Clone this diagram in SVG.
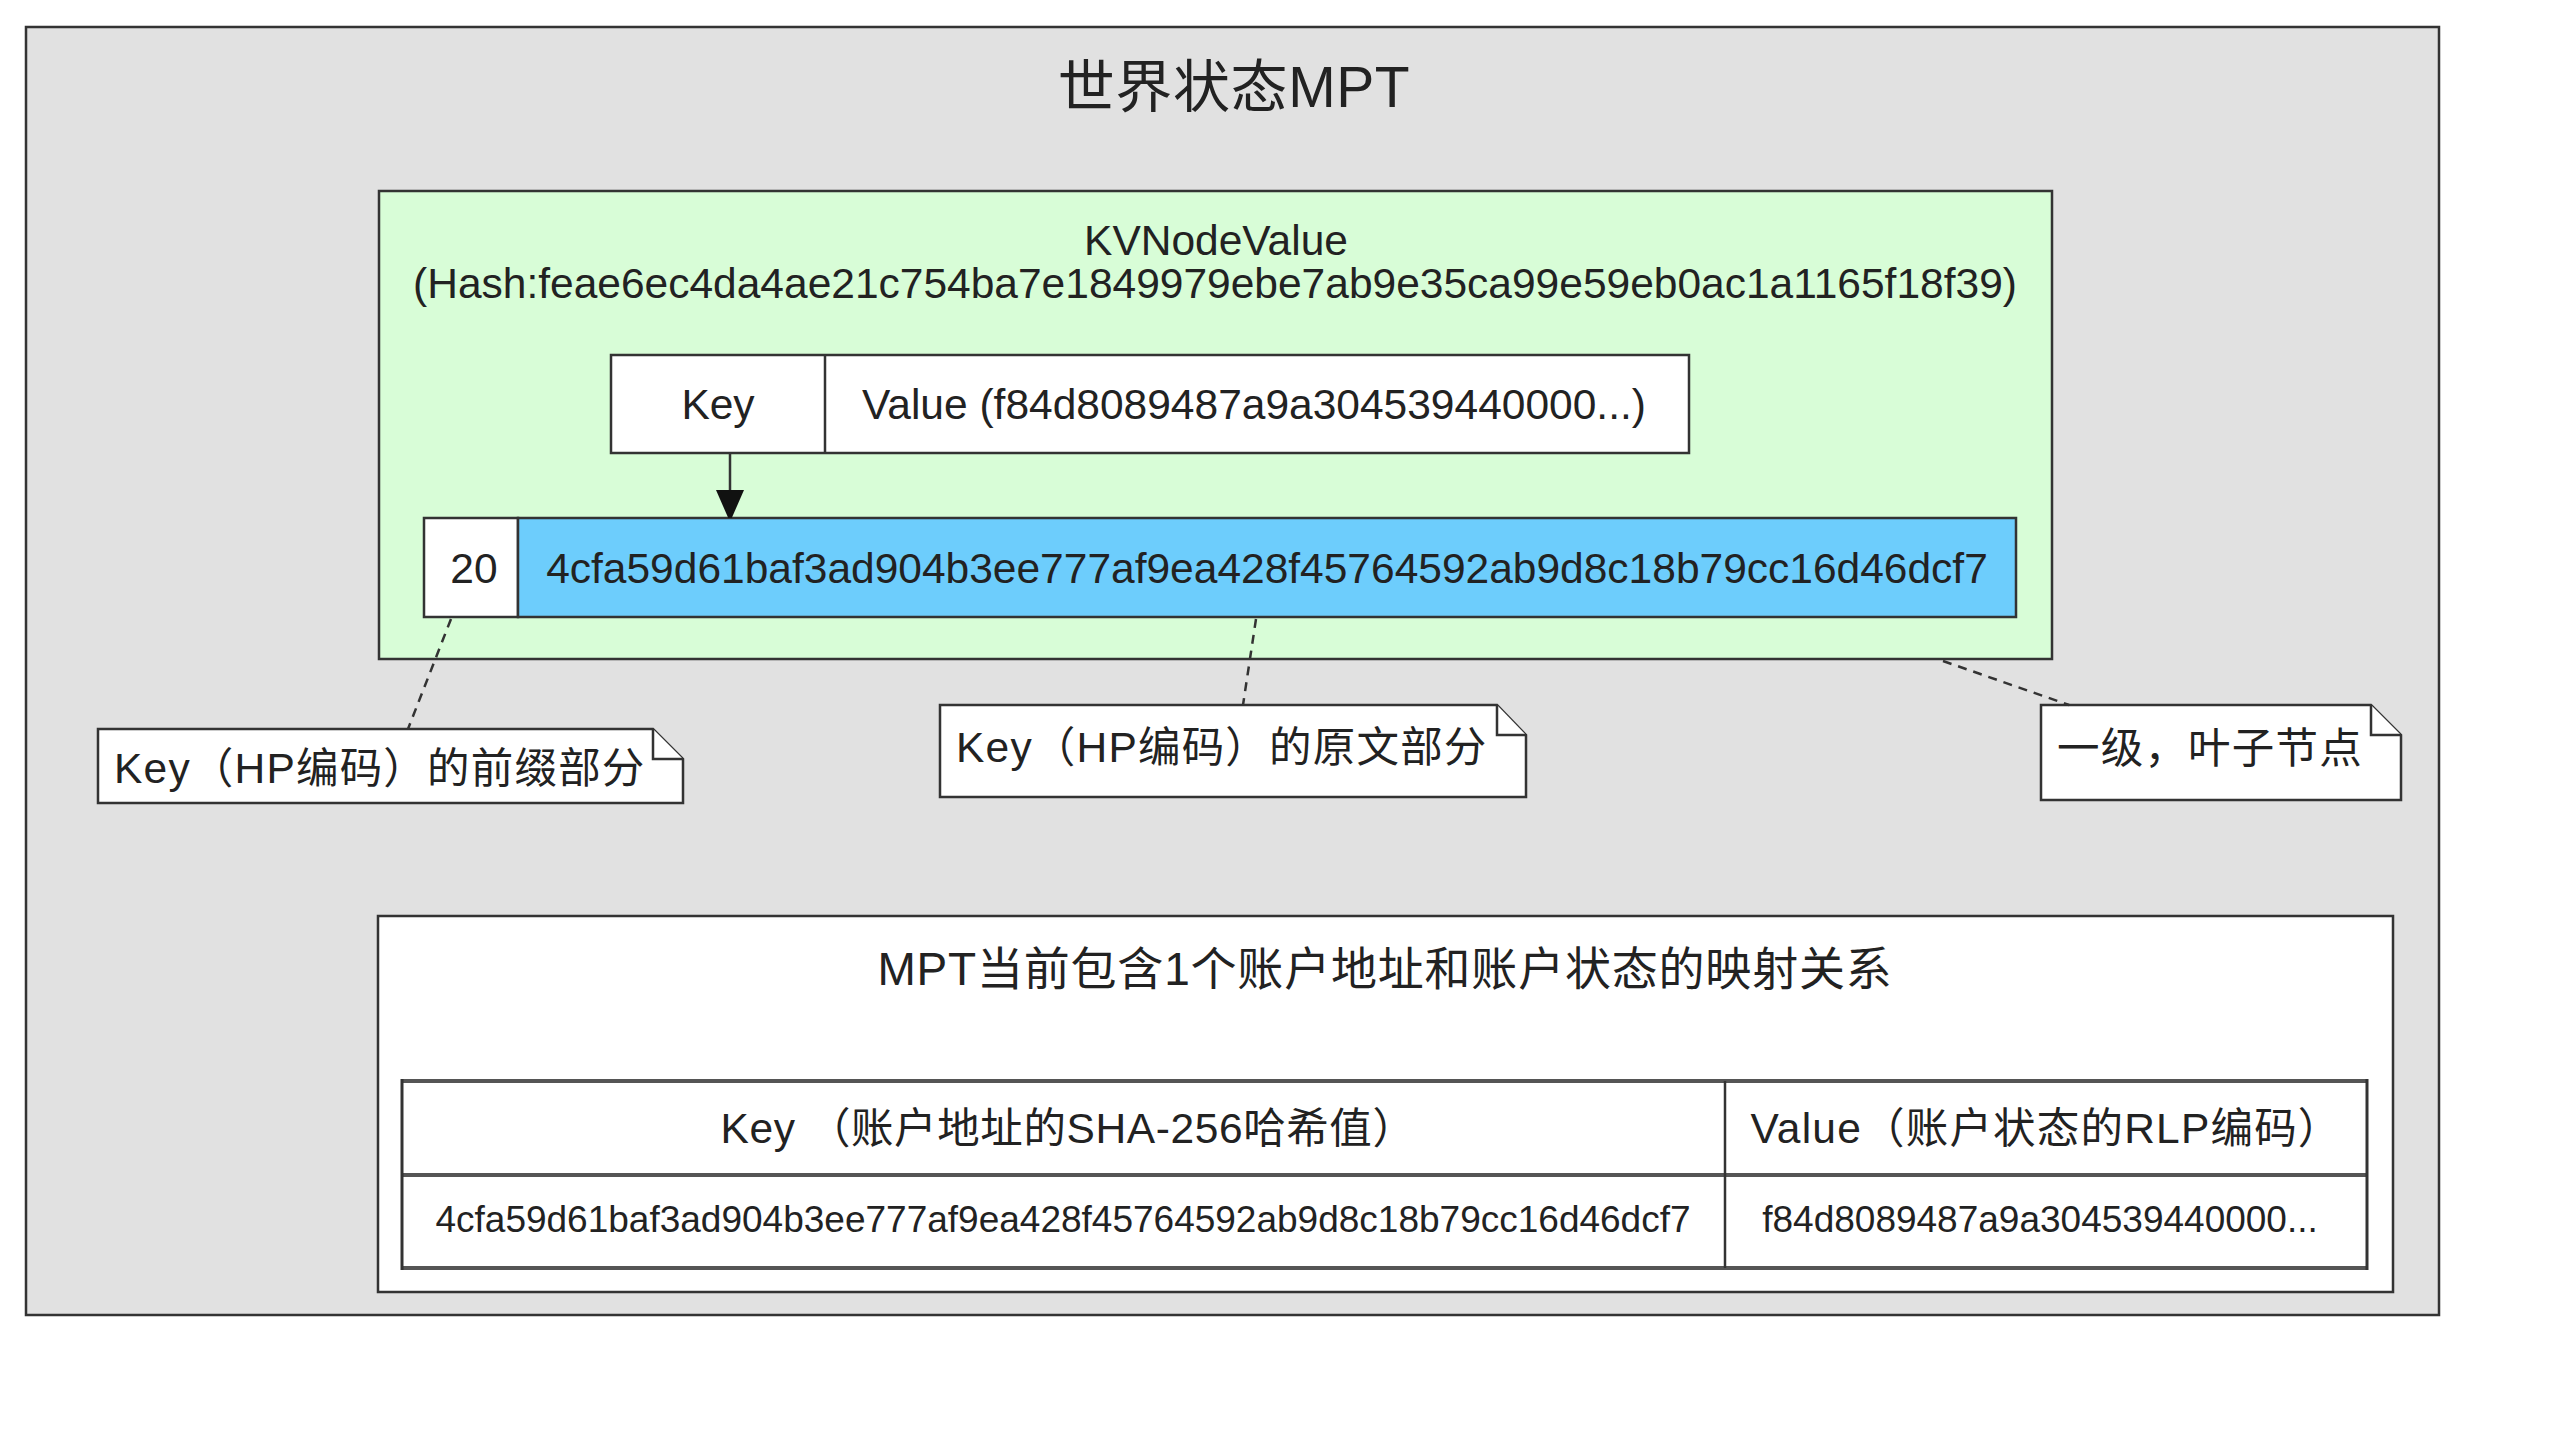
<svg xmlns="http://www.w3.org/2000/svg" width="2560" height="1436" viewBox="0 0 2560 1436">
<style>
text{font-family:"Liberation Sans","Noto Sans CJK SC",sans-serif;fill:#222;}
.box{stroke:#333;stroke-width:2.5;}
.t42{font-size:42.5px;}
.t37{font-size:37px;}
.mid{text-anchor:middle;}
.cjk{letter-spacing:1.2px;}
.note{fill:#fff;stroke:#333;stroke-width:2.5;stroke-linejoin:miter;}
.dash{fill:none;stroke:#333;stroke-width:2.5;stroke-dasharray:9 7;}
.line{stroke:#333;stroke-width:2.5;}
.tline{stroke:#555;stroke-width:4;}
</style>
<defs>
<marker id="arr" viewBox="0 0 28 32" refX="28" refY="14" markerWidth="28" markerHeight="32" markerUnits="userSpaceOnUse" orient="auto">
<path d="M0,0 L32,14 L0,28 Z" fill="#111"/>
</marker>
</defs>
<rect width="2560" height="1436" fill="#fff"/>
<g id="world">
<rect class="box" x="26" y="27" width="2413" height="1288" fill="#e1e1e1"/>
<text x="1234" y="107" class="mid" style="font-size:57px;letter-spacing:0.6px">世界状态MPT</text>
</g>
<g id="kvnode">
<rect class="box" x="379" y="191" width="1673" height="468" fill="#d8fdd7"/>
<text x="1216" y="255" class="t42 mid">KVNodeValue</text>
<text x="1215" y="298" class="t42 mid">(Hash:feae6ec4da4ae21c754ba7e1849979ebe7ab9e35ca99e59eb0ac1a1165f18f39)</text>
</g>
<g id="kvpair">
<rect class="box" x="611" y="355" width="1078" height="98" fill="#fff"/>
<line class="line" x1="825" y1="355" x2="825" y2="453"/>
<text x="718" y="419" class="t42 mid">Key</text>
<text x="1254" y="419" class="t42 mid">Value (f84d8089487a9a304539440000...)</text>
</g>
<g id="hpkey">
<rect class="box" x="424" y="518" width="94" height="99" fill="#fff"/>
<rect class="box" x="518" y="518" width="1498" height="99" fill="#6dcdfc"/>
<text x="474" y="583" class="t42 mid">20</text>
<text x="1267" y="583" class="t42 mid">4cfa59d61baf3ad904b3ee777af9ea428f45764592ab9d8c18b79cc16d46dcf7</text>
</g>
<g id="note1">
<path class="note" d="M98,729 H653 L683,759 V803 H98 Z"/>
<path class="note" d="M653,729 V759 H683" fill="none"/>
<text x="114" y="783" class="t42 cjk">Key（HP编码）的前缀部分</text>
</g>
<g id="note2">
<path class="note" d="M940,705 H1497 L1526,735 V797 H940 Z"/>
<path class="note" d="M1497,705 V735 H1526" fill="none"/>
<text x="956" y="762" class="t42 cjk">Key（HP编码）的原文部分</text>
</g>
<g id="note3">
<path class="note" d="M2041,705 H2371 L2401,735 V800 H2041 Z"/>
<path class="note" d="M2371,705 V735 H2401" fill="none"/>
<text x="2057" y="763" class="t42 cjk">一级，叶子节点</text>
</g>
<g id="mapping">
<rect class="box" x="378" y="916" width="2015" height="376" fill="#fff"/>
<text x="1385" y="985" class="mid" style="font-size:46px;letter-spacing:0.8px">MPT当前包含1个账户地址和账户状态的映射关系</text>
<rect x="402" y="1081" width="1965" height="187" fill="#fff" stroke="none"/>
<line class="tline" x1="402" y1="1081" x2="2367" y2="1081"/>
<line class="tline" x1="402" y1="1175" x2="2367" y2="1175"/>
<line class="tline" x1="402" y1="1268" x2="2367" y2="1268"/>
<line class="line" x1="402" y1="1079" x2="402" y2="1270" style="stroke-width:3"/>
<line class="line" x1="2367" y1="1079" x2="2367" y2="1270" style="stroke-width:3"/>
<line class="line" x1="1725" y1="1081" x2="1725" y2="1268" style="stroke-width:2.5"/>
<text x="1068" y="1143" class="t42 mid" style="letter-spacing:0.6px" xml:space="preserve">Key （账户地址的SHA-256哈希值）</text>
<text x="2046" y="1143" class="t42 mid cjk">Value（账户状态的RLP编码）</text>
<text x="1063" y="1232" class="t37 mid">4cfa59d61baf3ad904b3ee777af9ea428f45764592ab9d8c18b79cc16d46dcf7</text>
<text x="2040" y="1232" class="t37 mid">f84d8089487a9a304539440000...</text>
</g>
<g id="connectors">
<line class="line" x1="730" y1="453" x2="730" y2="518" marker-end="url(#arr)"/>
<line class="dash" x1="451" y1="619" x2="408" y2="729"/>
<line class="dash" x1="1256" y1="619" x2="1243" y2="705"/>
<line class="dash" x1="1943" y1="661" x2="2069" y2="705"/>
</g>
</svg>
